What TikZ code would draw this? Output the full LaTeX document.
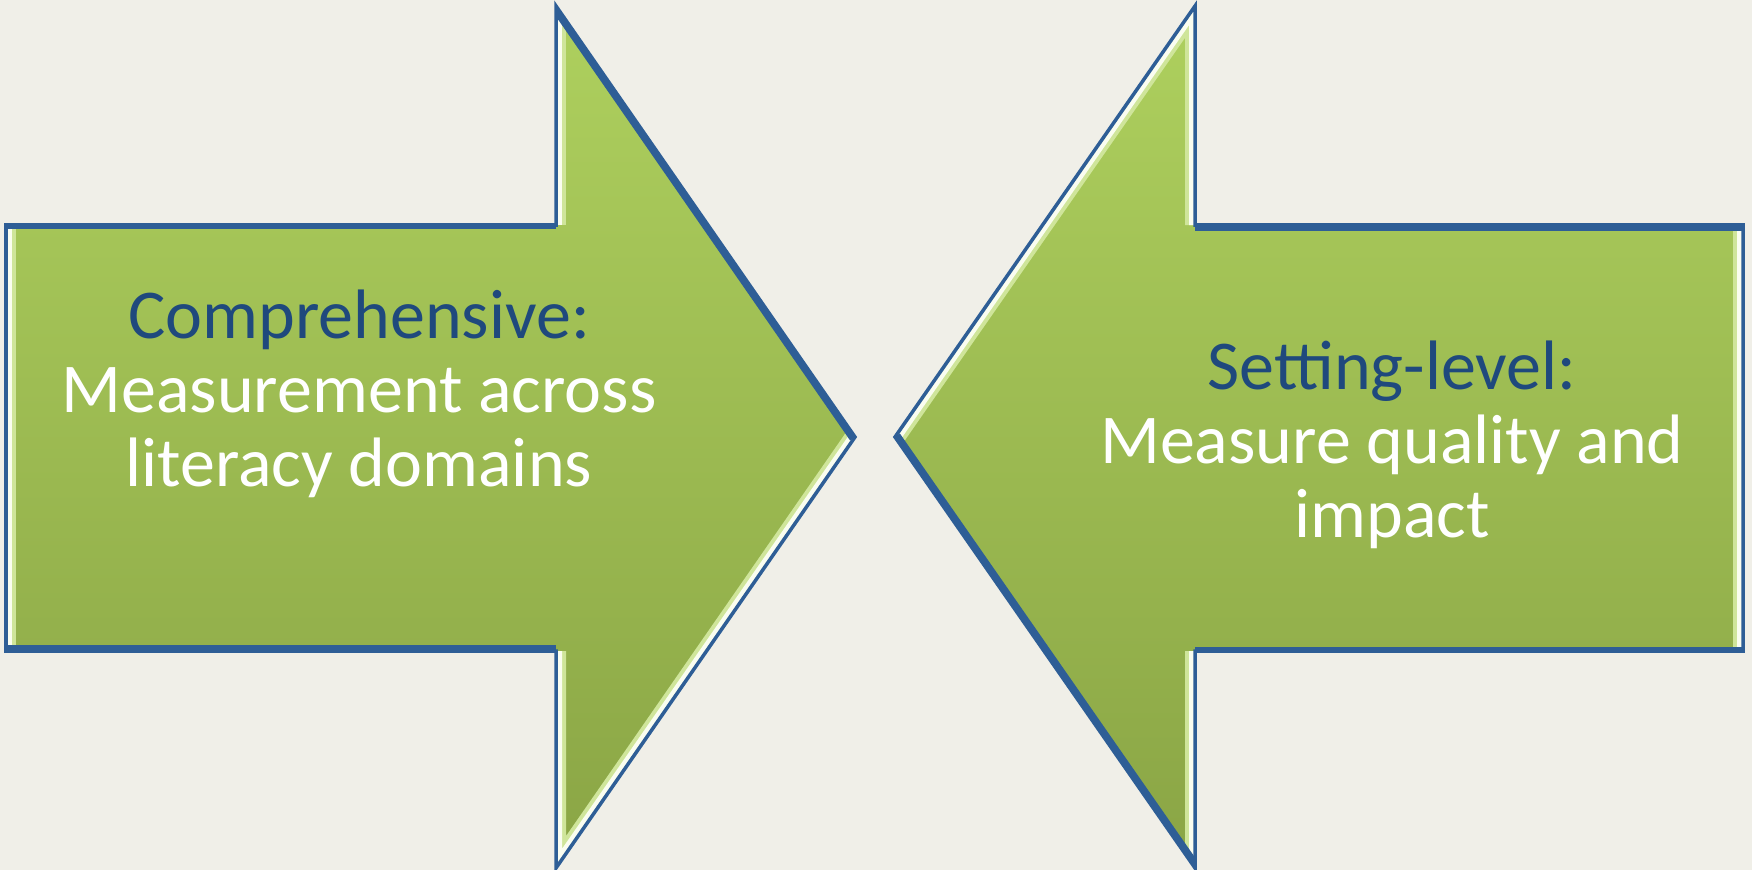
\documentclass[tikz,border=0pt]{standalone}
\usepackage{fontspec}
\setmainfont{Carlito}
\definecolor{bg}{HTML}{F0EFE8}
\definecolor{leaftop}{HTML}{AED05E}
\definecolor{leafbot}{HTML}{8AA545}
\definecolor{rim}{HTML}{2E5E96}
\definecolor{heading}{HTML}{1F497D}
\definecolor{glint}{HTML}{FAFDF0}
\definecolor{sheen}{HTML}{CFE59A}
\begin{document}
\begin{tikzpicture}[x=0.01cm,y=-0.01cm,
  bodyfill/.style={top color=leaftop, bottom color=leafbot},
  darkrim/.style={draw=rim, line width=0.12cm},
  midrim/.style={draw=rim, line width=0.08cm},
  sheenrim/.style={draw=sheen, line width=0.2cm},
  lightrim/.style={draw=glint, line width=0.12cm},
  outline/.style={draw=rim, line width=0.035cm, line join=miter},
  arrowtext/.style={align=center, font=\fontsize{19.9}{21}\selectfont, text=white}]

\useasboundingbox (0,0) rectangle (1752,870);
\fill[bg] (0,0) rectangle (1752,870);

% corner points of the right-pointing arrow
\coordinate (La) at (6,225);
\coordinate (Lb) at (556,225);
\coordinate (Lc) at (556,6);
\coordinate (Ld) at (855,437);
\coordinate (Le) at (556,868);
\coordinate (Lf) at (556,651);
\coordinate (Lg) at (6,651);

% corner points of the left-pointing arrow
\coordinate (Ra) at (1743,225);
\coordinate (Rb) at (1195,225);
\coordinate (Rc) at (1195,6);
\coordinate (Rd) at (895,437);
\coordinate (Re) at (1195,868);
\coordinate (Rf) at (1195,651);
\coordinate (Rg) at (1743,651);

% right-pointing arrow: body, bevel and rim
\shade[bodyfill] (La) -- (Lb) -- (Lc) -- (Ld) -- (Le) -- (Lf) -- (Lg) -- cycle;
\begin{scope}
  \clip (La) -- (Lb) -- (Lc) -- (Ld) -- (Le) -- (Lf) -- (Lg) -- cycle;
  \draw[sheenrim] (Lg) -- (La);
  \draw[sheenrim] (Lb) -- (Lc);
  \draw[sheenrim] (Ld) -- (Le) -- (Lf);
  \draw[lightrim] (Lg) -- (La);
  \draw[lightrim] (Lb) -- (Lc);
  \draw[lightrim] (Ld) -- (Le) -- (Lf);
  \draw[midrim] (La) -- (Lb);
  \draw[darkrim] (Lc) -- (Ld);
  \draw[darkrim] (Lf) -- (Lg);
\end{scope}
\draw[outline] (La) -- (Lb) -- (Lc) -- (Ld) -- (Le) -- (Lf) -- (Lg) -- cycle;

% left-pointing arrow: body, bevel and rim
\shade[bodyfill] (Ra) -- (Rb) -- (Rc) -- (Rd) -- (Re) -- (Rf) -- (Rg) -- cycle;
\begin{scope}
  \clip (Ra) -- (Rb) -- (Rc) -- (Rd) -- (Re) -- (Rf) -- (Rg) -- cycle;
  \draw[sheenrim] (Rg) -- (Ra);
  \draw[sheenrim] (Rb) -- (Rc) -- (Rd);
  \draw[sheenrim] (Re) -- (Rf);
  \draw[lightrim] (Rg) -- (Ra);
  \draw[lightrim] (Rb) -- (Rc) -- (Rd);
  \draw[lightrim] (Re) -- (Rf);
  \draw[midrim] (Rf) -- (Rg);
  \draw[darkrim] (Ra) -- (Rb);
  \draw[darkrim] (Rd) -- (Re);
\end{scope}
\draw[outline] (Ra) -- (Rb) -- (Rc) -- (Rd) -- (Re) -- (Rf) -- (Rg) -- cycle;

% texts
\node[arrowtext] (comp) at (359,394)
  {{\color{heading}Comprehensive:}\\Measurement across\\literacy domains};
\node[arrowtext] (setting) at (1392,445)
  {{\color{heading}Setting-level:}\\Measure quality and\\impact};
\end{tikzpicture}
\end{document}
